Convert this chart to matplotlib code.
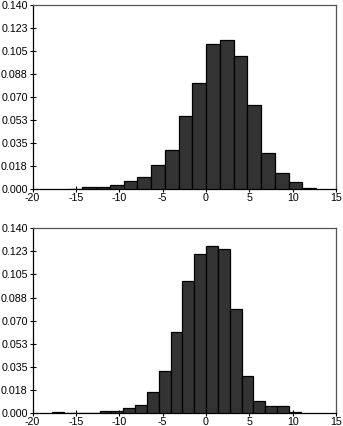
import numpy as np
import matplotlib
matplotlib.use("Agg")
import matplotlib.pyplot as plt

# bin layout and relative frequencies of the two histograms
top_width = 1.585
top_first_bin = -10
top_freq = [0.0005, 0.0015, 0.0015, 0.003, 0.006, 0.0093, 0.0187, 0.030, 0.0555,
            0.0805, 0.110, 0.113, 0.101, 0.0636, 0.0275, 0.0121, 0.0053, 0.0008]

bottom_width = 1.363
bottom_first_bin = -13
bottom_freq = [0.0005, 0.0, 0.0003, 0.0003, 0.0019, 0.0018, 0.004, 0.006, 0.016,
               0.032, 0.0617, 0.100, 0.1208, 0.1269, 0.1246, 0.0786, 0.0283,
               0.0091, 0.005, 0.005, 0.001]

x_ticks = [-20, -15, -10, -5, 0, 5, 10, 15]
y_ticks = [0.0, 0.0175, 0.035, 0.0525, 0.07, 0.0875, 0.105, 0.1225, 0.14]
y_labels = ["0.000", "0.018", "0.035", "0.053", "0.070", "0.088", "0.105", "0.123", "0.140"]

plt.rcParams["font.family"] = ["Liberation Sans", "DejaVu Sans"]
plt.rcParams["font.size"] = 7.7

fig = plt.figure(figsize=(3.43, 4.26), dpi=100)
ax1 = fig.add_axes([0.095, 0.5556, 0.885, 0.4338])
ax2 = fig.add_axes([0.095, 0.0305, 0.885, 0.4336])


def hist_panel(ax, first_bin, width, freq):
    lefts = (first_bin + np.arange(len(freq))) * width
    ax.bar(lefts, freq, width=width, align="edge", color="#333333",
           edgecolor="black", linewidth=0.9, zorder=3)
    ax.set_xlim(-20, 15)
    ax.set_ylim(0, 0.14)
    ax.set_xticks(x_ticks)
    ax.set_xticklabels([str(t) for t in x_ticks])
    ax.set_yticks(y_ticks)
    ax.set_yticklabels(y_labels)
    ax.tick_params(direction="inout", length=5, width=0.8, pad=1, colors="black")
    ax.tick_params(axis="x", pad=0.5)
    for side in ["left", "bottom"]:
        ax.spines[side].set_color("black")
        ax.spines[side].set_linewidth(0.9)
    for side in ["top", "right"]:
        ax.spines[side].set_color("#555555")
        ax.spines[side].set_linewidth(0.9)


hist_panel(ax1, top_first_bin, top_width, top_freq)
hist_panel(ax2, bottom_first_bin, bottom_width, bottom_freq)

fig.savefig("out.png", dpi=100)
